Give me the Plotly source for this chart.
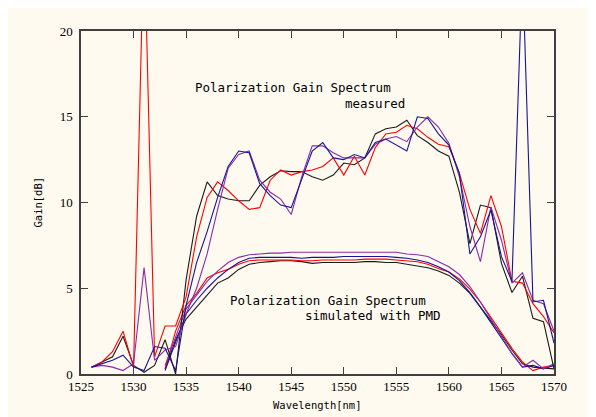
import plotly.graph_objects as go

# ---------------- data ----------------
wl = list(range(1526, 1571))  # 1526 ... 1570 nm, 1 nm step

meas_black = [0.4, 0.7, 1.0, 2.2, 0.5, 0.1, 0.5, 2.0, 0.0, 5.5,
              9.2, 11.2, 10.4, 10.2, 10.1, 10.1, 11.0, 11.5, 11.85, 11.8,
              11.8, 11.5, 11.3, 11.6, 12.3, 12.2, 12.6, 14.0, 14.3, 14.4,
              14.8, 13.9, 13.5, 13.0, 12.7, 10.6, 7.6, 9.85, 9.7, 6.45,
              4.75, 5.7, 3.25, 3.05, 0.3]
meas_red = [0.4, 0.7, 1.3, 2.5, 0.4, 26.0, 1.0, 2.8, 2.8, 4.5,
            8.0, 10.3, 11.2, 10.7, 10.1, 9.6, 9.7, 11.3, 11.9, 11.6,
            11.8, 11.9, 12.1, 12.6, 11.6, 12.7, 11.6, 13.2, 14.0, 14.1,
            14.5, 14.3, 13.8, 13.4, 13.25, 11.7, 9.6, 8.2, 10.4, 8.6,
            5.4, 5.3, 4.1, 3.35, 2.4]
meas_blue = [0.4, 0.6, 0.8, 1.1, 0.4, 0.2, 1.6, 1.5, 0.2, 4.0,
             6.5, 8.3, 10.3, 12.1, 13.0, 12.9, 11.1, 10.4, 9.85, 9.7,
             11.3, 13.0, 13.5, 12.6, 12.5, 12.8, 12.6, 13.5, 13.7, 13.35,
             13.0, 15.0, 14.9, 14.0, 13.35, 11.7, 7.0, 8.0, 9.56, 6.84,
             5.4, 23.8, 4.2, 4.3, 1.8]
meas_purple = [0.4, 0.5, 0.4, 0.2, 0.6, 6.2, 0.8, 1.4, 1.6, 3.5,
               5.0, 7.0, 9.6, 12.0, 12.8, 13.0, 11.3, 10.6, 10.2, 9.3,
               11.5, 13.3, 13.3, 12.9, 12.6, 12.6, 12.6, 13.4, 13.7, 13.85,
               13.55, 14.4, 15.0, 14.4, 13.45, 11.5, 8.6, 6.55, 9.75, 7.8,
               5.3, 5.9, 4.3, 4.1, 2.5]

wl_sim = list(range(1533, 1571))  # 1533 ... 1570 nm

sim_black = [0.3, 2.0, 3.2, 3.9, 4.6, 5.3, 5.6, 6.1, 6.4, 6.5,
             6.55, 6.6, 6.6, 6.55, 6.45, 6.5, 6.5, 6.5, 6.5, 6.55,
             6.55, 6.5, 6.5, 6.4, 6.3, 6.2, 6.0, 5.75, 5.3, 4.7,
             3.9, 3.1, 2.3, 1.4, 0.6, 0.4, 0.35, 0.3]
sim_red = [0.3, 2.5, 4.0, 4.7, 5.6, 5.9, 6.1, 6.4, 6.6, 6.65,
           6.65, 6.65, 6.65, 6.6, 6.6, 6.65, 6.65, 6.65, 6.65, 6.7,
           6.7, 6.7, 6.65, 6.6, 6.55, 6.4, 6.15, 5.95, 5.55, 4.95,
           4.2, 3.3, 2.4, 1.5, 0.7, 0.2, 0.4, 0.5]
sim_blue = [0.2, 1.8, 3.5, 4.3, 5.0, 5.6, 6.1, 6.5, 6.75, 6.8,
            6.8, 6.8, 6.8, 6.75, 6.8, 6.8, 6.8, 6.85, 6.85, 6.85,
            6.85, 6.85, 6.8, 6.75, 6.65, 6.5, 6.25, 5.95, 5.45, 4.75,
            3.9, 3.0, 2.1, 1.2, 0.4, 0.5, 0.3, 0.5]
sim_purple = [0.5, 2.2, 3.8, 4.6, 5.4, 6.0, 6.5, 6.8, 6.95, 7.0,
              7.05, 7.05, 7.1, 7.1, 7.1, 7.1, 7.1, 7.1, 7.1, 7.1,
              7.1, 7.1, 7.1, 7.0, 6.95, 6.85, 6.55, 6.25, 5.8, 5.1,
              4.2, 3.2, 2.2, 1.2, 0.4, 0.8, 0.3, 0.6]

x_ticks = [1525, 1530, 1535, 1540, 1545, 1550, 1555, 1560, 1565, 1570]
y_ticks = [0, 5, 10, 15, 20]

colors = {"black": "#1a1a1a", "red": "#ff0000", "blue": "#14149a", "purple": "#8a2aa8"}

fig = go.Figure()
for name, ys in [("black", sim_black), ("red", sim_red), ("blue", sim_blue), ("purple", sim_purple)]:
    fig.add_trace(go.Scatter(x=wl_sim, y=ys, mode="lines",
                             line=dict(color=colors[name], width=1.1), showlegend=False))
for name, ys in [("black", meas_black), ("red", meas_red), ("purple", meas_purple), ("blue", meas_blue)]:
    fig.add_trace(go.Scatter(x=wl, y=ys, mode="lines",
                             line=dict(color=colors[name], width=1.1), showlegend=False))

cream = "#fffaf0"
axis_common = dict(showgrid=False, zeroline=False, ticks="inside", ticklen=7,
                   tickcolor="#404040", tickwidth=1.2, showline=True, linecolor="#404040",
                   linewidth=1.5, mirror="ticks",
                   tickfont=dict(family="Liberation Serif", size=13, color="#000000"))

fig.update_layout(
    width=596, height=417,
    margin=dict(l=73, r=50, t=23, b=51),
    paper_bgcolor=cream,
    plot_bgcolor=cream,
    xaxis=dict(range=[1525, 1570], tickvals=x_ticks, ticktext=[str(v) for v in x_ticks], **axis_common),
    yaxis=dict(range=[0, 20], tickvals=y_ticks, ticktext=[str(v) for v in y_ticks],
               ticklabelstandoff=4, **axis_common),
)

mono = "DejaVu Sans Mono"
ann = [
    dict(text="Polarization Gain Spectrum", x=1535.63, y=16.68, xanchor="left"),
    dict(text="measured", x=1555.98, y=15.8, xanchor="right"),
    dict(text="Polarization Gain Spectrum", x=1538.96, y=4.27, xanchor="left"),
    dict(text="simulated with PMD", x=1559.32, y=3.44, xanchor="right"),
]
for a in ann:
    fig.add_annotation(xref="x", yref="y", showarrow=False, yanchor="middle",
                       font=dict(family=mono, size=12.5, color="#000000"), **a)

fig.add_annotation(text="Gain[dB]", xref="paper", yref="paper", x=(37 - 81) / 473, y=0.5,
                   textangle=-90, showarrow=False, xanchor="center", yanchor="middle",
                   font=dict(family=mono, size=10.5, color="#000000"))
fig.add_annotation(text="Wavelength[nm]", xref="paper", yref="paper", x=(317 - 81) / 473,
                   y=(374 - 405) / 343, showarrow=False, xanchor="center", yanchor="middle",
                   font=dict(family=mono, size=10.5, color="#000000"))

fig.write_html("out.html")
